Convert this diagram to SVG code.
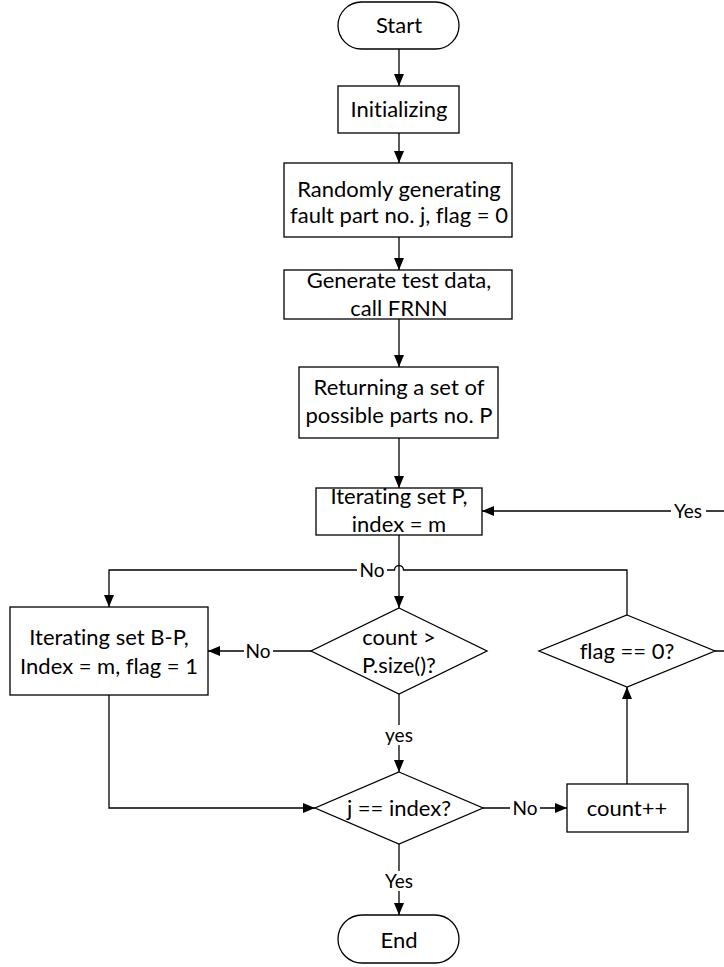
<svg xmlns="http://www.w3.org/2000/svg" width="724" height="967" viewBox="0 0 724 967">
<defs>
<marker id="ah" markerUnits="userSpaceOnUse" markerWidth="12" markerHeight="10" refX="12" refY="5" orient="auto">
<path d="M0,0 L12,5 L0,10 Z" fill="#000"/>
</marker>
<style>
.n{fill:#fff;stroke:#000;stroke-width:1.3}
.t{font-family:Lato,"Liberation Sans",sans-serif;font-size:22px;fill:#000;text-anchor:middle;font-variant-ligatures:none}
.l{font-family:Lato,"Liberation Sans",sans-serif;font-size:19px;fill:#000;text-anchor:middle;font-variant-ligatures:none}
.c{fill:none;stroke:#000;stroke-width:1.3}
.bg{fill:#fff}
</style>
</defs>
<rect width="724" height="967" fill="#fff"/>
<g id="connectors">
<path class="c" d="M399 49 V86" marker-end="url(#ah)"/>
<path class="c" d="M399 133 V163" marker-end="url(#ah)"/>
<path class="c" d="M399 237 V270" marker-end="url(#ah)"/>
<path class="c" d="M399 319 V367" marker-end="url(#ah)"/>
<path class="c" d="M399 438 V488" marker-end="url(#ah)"/>
<path class="c" d="M399 535 V608" marker-end="url(#ah)"/>
<path class="c" d="M311 651 H208" marker-end="url(#ah)"/>
<path class="c" d="M399 694 V772" marker-end="url(#ah)"/>
<path class="c" d="M109 695 V808 H315" marker-end="url(#ah)"/>
<path class="c" d="M483 808 H567" marker-end="url(#ah)"/>
<path class="c" d="M627 784 V687" marker-end="url(#ah)"/>
<path class="c" d="M627 615 V570 H403.5 A4.5 4.5 0 0 0 394.5 570 H109 V607" marker-end="url(#ah)"/>
<path class="c" d="M715 651 H740 V511 H482" marker-end="url(#ah)"/>
<path class="c" d="M399 844 V915" marker-end="url(#ah)"/>
<rect class="bg" x="357" y="560" width="30" height="20"/>
<text class="l" x="372" y="577">No</text>
<rect class="bg" x="244" y="641" width="29" height="20"/>
<text class="l" x="258" y="658">No</text>
<rect class="bg" x="510" y="798" width="30" height="20"/>
<text class="l" x="525" y="815">No</text>
<rect class="bg" x="671" y="501" width="35" height="20"/>
<text class="l" x="688" y="518">Yes</text>
<rect class="bg" x="384" y="725" width="31" height="20"/>
<text class="l" x="399" y="742">yes</text>
<rect class="bg" x="382" y="871" width="34" height="20"/>
<text class="l" x="399" y="888">Yes</text>
</g>
<g id="start">
<rect class="n" x="338" y="2" width="121" height="47" rx="23.5"/>
<text class="t" x="399" y="33">Start</text>
</g>
<g id="init">
<rect class="n" x="338" y="86" width="121" height="47"/>
<text class="t" x="399" y="117">Initializing</text>
</g>
<g id="random">
<rect class="n" x="284" y="163" width="228" height="74"/>
<text class="t" x="399" y="197">Randomly generating</text>
<text class="t" x="399" y="223">fault part no. j, flag = 0</text>
</g>
<g id="generate">
<rect class="n" x="284" y="270" width="228" height="49"/>
<text class="t" x="399" y="288">Generate test data,</text>
<text class="t" x="399" y="316">call FRNN</text>
</g>
<g id="returning">
<rect class="n" x="299" y="367" width="199" height="71"/>
<text class="t" x="399" y="395">Returning a set of</text>
<text class="t" x="399" y="423">possible parts no. P</text>
</g>
<g id="iterP">
<rect class="n" x="316" y="488" width="166" height="47"/>
<text class="t" x="399" y="504">Iterating set P,</text>
<text class="t" x="399" y="532">index = m</text>
</g>
<g id="iterBP">
<rect class="n" x="10" y="607" width="198" height="88"/>
<text class="t" x="109" y="645">Iterating set B-P,</text>
<text class="t" x="109" y="674">Index = m, flag = 1</text>
</g>
<g id="countCheck">
<polygon class="n" points="399,608 487,651 399,694 311,651"/>
<text class="t" x="399" y="645">count &gt;</text>
<text class="t" x="399" y="673">P.size()?</text>
</g>
<g id="flagCheck">
<polygon class="n" points="627,615 715,651 627,687 539,651"/>
<text class="t" x="627" y="659">flag == 0?</text>
</g>
<g id="jCheck">
<polygon class="n" points="399,772 483,808 399,844 315,808"/>
<text class="t" x="399" y="816">j == index?</text>
</g>
<g id="countInc">
<rect class="n" x="567" y="784" width="121" height="48"/>
<text class="t" x="627" y="816">count++</text>
</g>
<g id="end">
<rect class="n" x="338" y="915" width="121" height="48" rx="24"/>
<text class="t" x="399" y="948">End</text>
</g>
</svg>
